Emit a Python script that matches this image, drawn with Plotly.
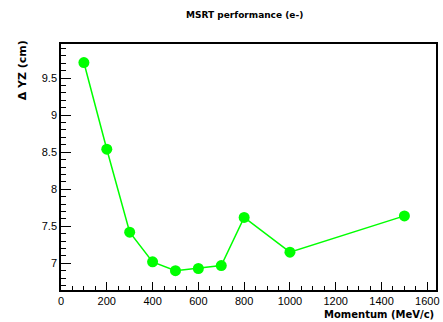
import plotly.graph_objects as go

# Momentum scan: resolution of the YZ position for electrons
momentum = [100, 200, 300, 400, 500, 600, 700, 800, 1000, 1500]
delta_yz = [9.71, 8.54, 7.42, 7.02, 6.90, 6.93, 6.97, 7.62, 7.15, 7.64]

x_ticks = [0, 200, 400, 600, 800, 1000, 1200, 1400, 1600]
y_ticks = [7, 7.5, 8, 8.5, 9, 9.5]

W, H = 443, 322
L, R, T, B = 61, 4, 44, 32
pw, ph = W - L - R, H - T - B

font = "Liberation Sans, Arial, sans-serif"
title_font = "DejaVu Sans, sans-serif"

fig = go.Figure()
fig.add_trace(go.Scatter(
    x=momentum, y=delta_yz, mode="lines+markers",
    line=dict(color="#00ff00", width=1.5),
    marker=dict(color="#00ff00", size=11, symbol="circle"),
    showlegend=False,
))

axis_common = dict(
    showgrid=False, zeroline=False, showline=True, linecolor="black",
    linewidth=1.5, mirror=True, ticks="inside", tickcolor="black",
    tickwidth=1, tickfont=dict(family=font, size=11, color="black"),
)

fig.update_xaxes(
    range=[0, 1638], tickvals=x_ticks, ticklen=8, ticklabelstandoff=0,
    minor=dict(ticks="inside", dtick=50, tick0=0, ticklen=4, tickcolor="black"),
    **axis_common,
)
fig.update_yaxes(
    range=[6.64, 9.96], tickvals=y_ticks, ticktext=[str(v) for v in y_ticks],
    ticklen=10,
    minor=dict(ticks="inside", dtick=0.1, tick0=7, ticklen=5, tickcolor="black"),
    **axis_common,
)

fig.add_annotation(
    text="<b>MSRT performance (e-)</b>", xref="paper", yref="paper",
    x=(246 - L) / pw, y=(H - B - 15) / ph, xanchor="center", yanchor="middle",
    showarrow=False, font=dict(family=title_font, size=9, color="black"),
)
fig.add_annotation(
    text="<b>Momentum (MeV/c)</b>", xref="paper", yref="paper",
    x=(439 - L) / pw, y=(H - B - 314) / ph, xanchor="right", yanchor="middle",
    showarrow=False, font=dict(family=title_font, size=10, color="black"),
)
fig.add_annotation(
    text="<b>Δ YZ (cm)</b>", xref="paper", yref="paper",
    x=(22 - L) / pw, y=(H - B - 38) / ph, xanchor="center", yanchor="top",
    textangle=-90, showarrow=False, font=dict(family=title_font, size=11, color="black"),
)

fig.update_layout(
    width=W, height=H, margin=dict(l=L, r=R, t=T, b=B),
    paper_bgcolor="white", plot_bgcolor="white",
)

fig.write_html("out.html")
